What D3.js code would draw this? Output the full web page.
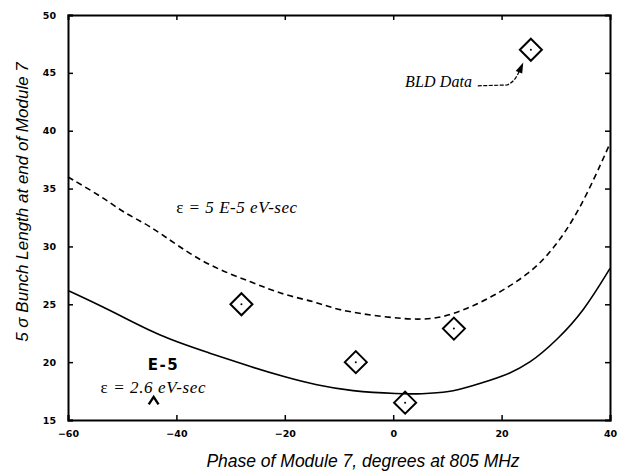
<!DOCTYPE html>
<html>
<head>
<meta charset="utf-8">
<script src="https://cdn.jsdelivr.net/npm/d3@7"></script>
<style>
  body { margin: 0; background: #fff; }
  svg { display: block; }
</style>
</head>
<body>
<div id="chart"></div>
<script>
const width = 617;
const height = 474;
const margin = { top: 15, right: 7, bottom: 54, left: 68 };

const xTicks = [-60, -40, -20, 0, 20, 40];
const yTicks = [15, 20, 25, 30, 35, 40, 45, 50];

// eps = 5E-5 eV-sec (dashed)
const dashedPhase = [-60, -53.4, -49.7, -45.1, -39.9, -33.7, -26, -20.2, -14.1, -10.4, -1.8, 5.6, 11, 18.5, 25.3, 29.5, 34.5, 40];
const dashedLength = [36, 34.2, 32.9, 31.85, 30.1, 28.25, 26.9, 25.8, 25.2, 24.5, 23.9, 23.6, 24.05, 25.66, 27.7, 29.7, 33.15, 38.9];

// eps = 2.6E-5 eV-sec (solid)
const solidPhase = [-60, -52.2, -43, -33.7, -26, -20.2, -14.1, -7.9, 1.3, 5, 10.5, 14.2, 20.3, 25.3, 30.2, 35.1, 40];
const solidLength = [26.2, 24.5, 22.2, 20.76, 19.55, 18.74, 18.0, 17.5, 17.25, 17.25, 17.4, 17.9, 18.74, 19.9, 21.9, 24.36, 28.1];

// BLD measurements
const bldPhase = [-28, -6.9, 2.2, 11.2, 25.4];
const bldLength = [25, 20, 16.5, 22.9, 47];

const svg = d3.select("#chart")
  .append("svg")
  .attr("width", width)
  .attr("height", height);

const x = d3.scaleLinear().domain([-60, 40]).range([margin.left, width - margin.right]);
const y = d3.scaleLinear().domain([15, 50]).range([height - margin.bottom, margin.top]);

const tickFont = "bold 9.5px 'DejaVu Sans', sans-serif";

// frame axes
svg.append("g")
  .attr("transform", `translate(0,${y(15)})`)
  .call(d3.axisBottom(x).tickValues(xTicks).tickSize(-5).tickPadding(10).tickFormat(d3.format("d")))
  .call(g => g.select(".domain").attr("stroke-width", 2))
  .call(g => g.selectAll(".tick line").attr("stroke-width", 1.5))
  .call(g => g.selectAll("text").style("font", tickFont));

svg.append("g")
  .attr("transform", `translate(0,${y(50)})`)
  .call(d3.axisTop(x).tickValues(xTicks.slice(1, -1)).tickSize(-5).tickFormat(""))
  .call(g => g.select(".domain").attr("stroke-width", 2))
  .call(g => g.selectAll(".tick line").attr("stroke-width", 1.5));

svg.append("g")
  .attr("transform", `translate(${x(-60)},0)`)
  .call(d3.axisLeft(y).tickValues(yTicks).tickSize(-5).tickPadding(12).tickFormat(d3.format("d")))
  .call(g => g.select(".domain").attr("stroke-width", 2))
  .call(g => g.selectAll(".tick line").attr("stroke-width", 1.5))
  .call(g => g.selectAll("text").style("font", tickFont));

svg.append("g")
  .attr("transform", `translate(${x(40)},0)`)
  .call(d3.axisRight(y).tickValues(yTicks.slice(1, -1)).tickSize(-5).tickFormat(""))
  .call(g => g.select(".domain").attr("stroke-width", 2))
  .call(g => g.selectAll(".tick line").attr("stroke-width", 1.5));

svg.selectAll(".domain").attr("stroke", "#000");

// curves
const line = d3.line()
  .x(d => x(d[0]))
  .y(d => y(d[1]))
  .curve(d3.curveBasis);

svg.append("path")
  .datum(d3.zip(dashedPhase, dashedLength))
  .attr("fill", "none")
  .attr("stroke", "#000")
  .attr("stroke-width", 1.6)
  .attr("stroke-dasharray", "6,4")
  .attr("d", line);

svg.append("path")
  .datum(d3.zip(solidPhase, solidLength))
  .attr("fill", "none")
  .attr("stroke", "#000")
  .attr("stroke-width", 1.6)
  .attr("d", line);

// diamonds
const pts = svg.selectAll(".bld")
  .data(d3.zip(bldPhase, bldLength))
  .enter().append("g")
  .attr("class", "bld")
  .attr("transform", d => `translate(${x(d[0])},${y(d[1])})`);

pts.append("path")
  .attr("d", "M0,-11L11,0L0,11L-11,0Z")
  .attr("fill", "none")
  .attr("stroke", "#000")
  .attr("stroke-width", 2);

pts.append("circle")
  .attr("r", 1)
  .attr("fill", "#000");

// annotations
const serif = "'Liberation Serif', 'Times New Roman', serif";

function epsLabel(px, py, len, rest) {
  const t = svg.append("text")
    .attr("x", px)
    .attr("y", py)
    .attr("textLength", len)
    .style("font", `italic 17px ${serif}`);
  t.append("tspan").style("font-style", "normal").text("ε");
  t.append("tspan").text(rest);
}

epsLabel(x(-40.05), y(32.9), 121, " = 5 E-5 eV-sec");
epsLabel(x(-54), y(17.3), 105, " = 2.6 eV-sec");

svg.append("text")
  .attr("x", x(-45.3))
  .attr("y", y(19.35))
  .style("font", "bold 15px 'DejaVu Sans', sans-serif")
  .attr("textLength", 30)
  .text("E-5");

svg.append("path")
  .attr("d", `M${x(-45.1)},${y(16.35)}L${x(-44.2)},${y(17.0)}L${x(-43.3)},${y(16.35)}`)
  .attr("fill", "none")
  .attr("stroke", "#000")
  .attr("stroke-width", 2.4);

svg.append("text")
  .attr("x", x(2.2))
  .attr("y", y(43.8))
  .attr("textLength", 67)
  .style("font", `italic 16px ${serif}`)
  .text("BLD Data");

svg.append("path")
  .attr("d", `M${x(15.6)},${y(43.88)}L${x(21)},${y(43.95)}Q${x(22.5)},${y(44.2)} ${x(23.4)},${y(45.3)}`)
  .attr("fill", "none")
  .attr("stroke", "#000")
  .attr("stroke-width", 1.2)
  .attr("stroke-dasharray", "4,1.5");

svg.append("path")
  .attr("d", `M${x(24)},${y(45.9)}L${x(22.6)},${y(45.15)}L${x(23.8)},${y(44.95)}Z`)
  .attr("fill", "#000");

// axis titles
const sans = "'Liberation Sans', Arial, sans-serif";

svg.append("text")
  .attr("x", 363)
  .attr("y", 467)
  .attr("text-anchor", "middle")
  .style("font", `italic 17.5px ${sans}`)
  .text("Phase of Module 7, degrees at 805 MHz");

svg.append("text")
  .attr("transform", "translate(28,202) rotate(-90)")
  .attr("text-anchor", "middle")
  .style("font", `italic 17px ${sans}`)
  .text("5 σ Bunch Length at end of Module 7");
</script>
</body>
</html>
